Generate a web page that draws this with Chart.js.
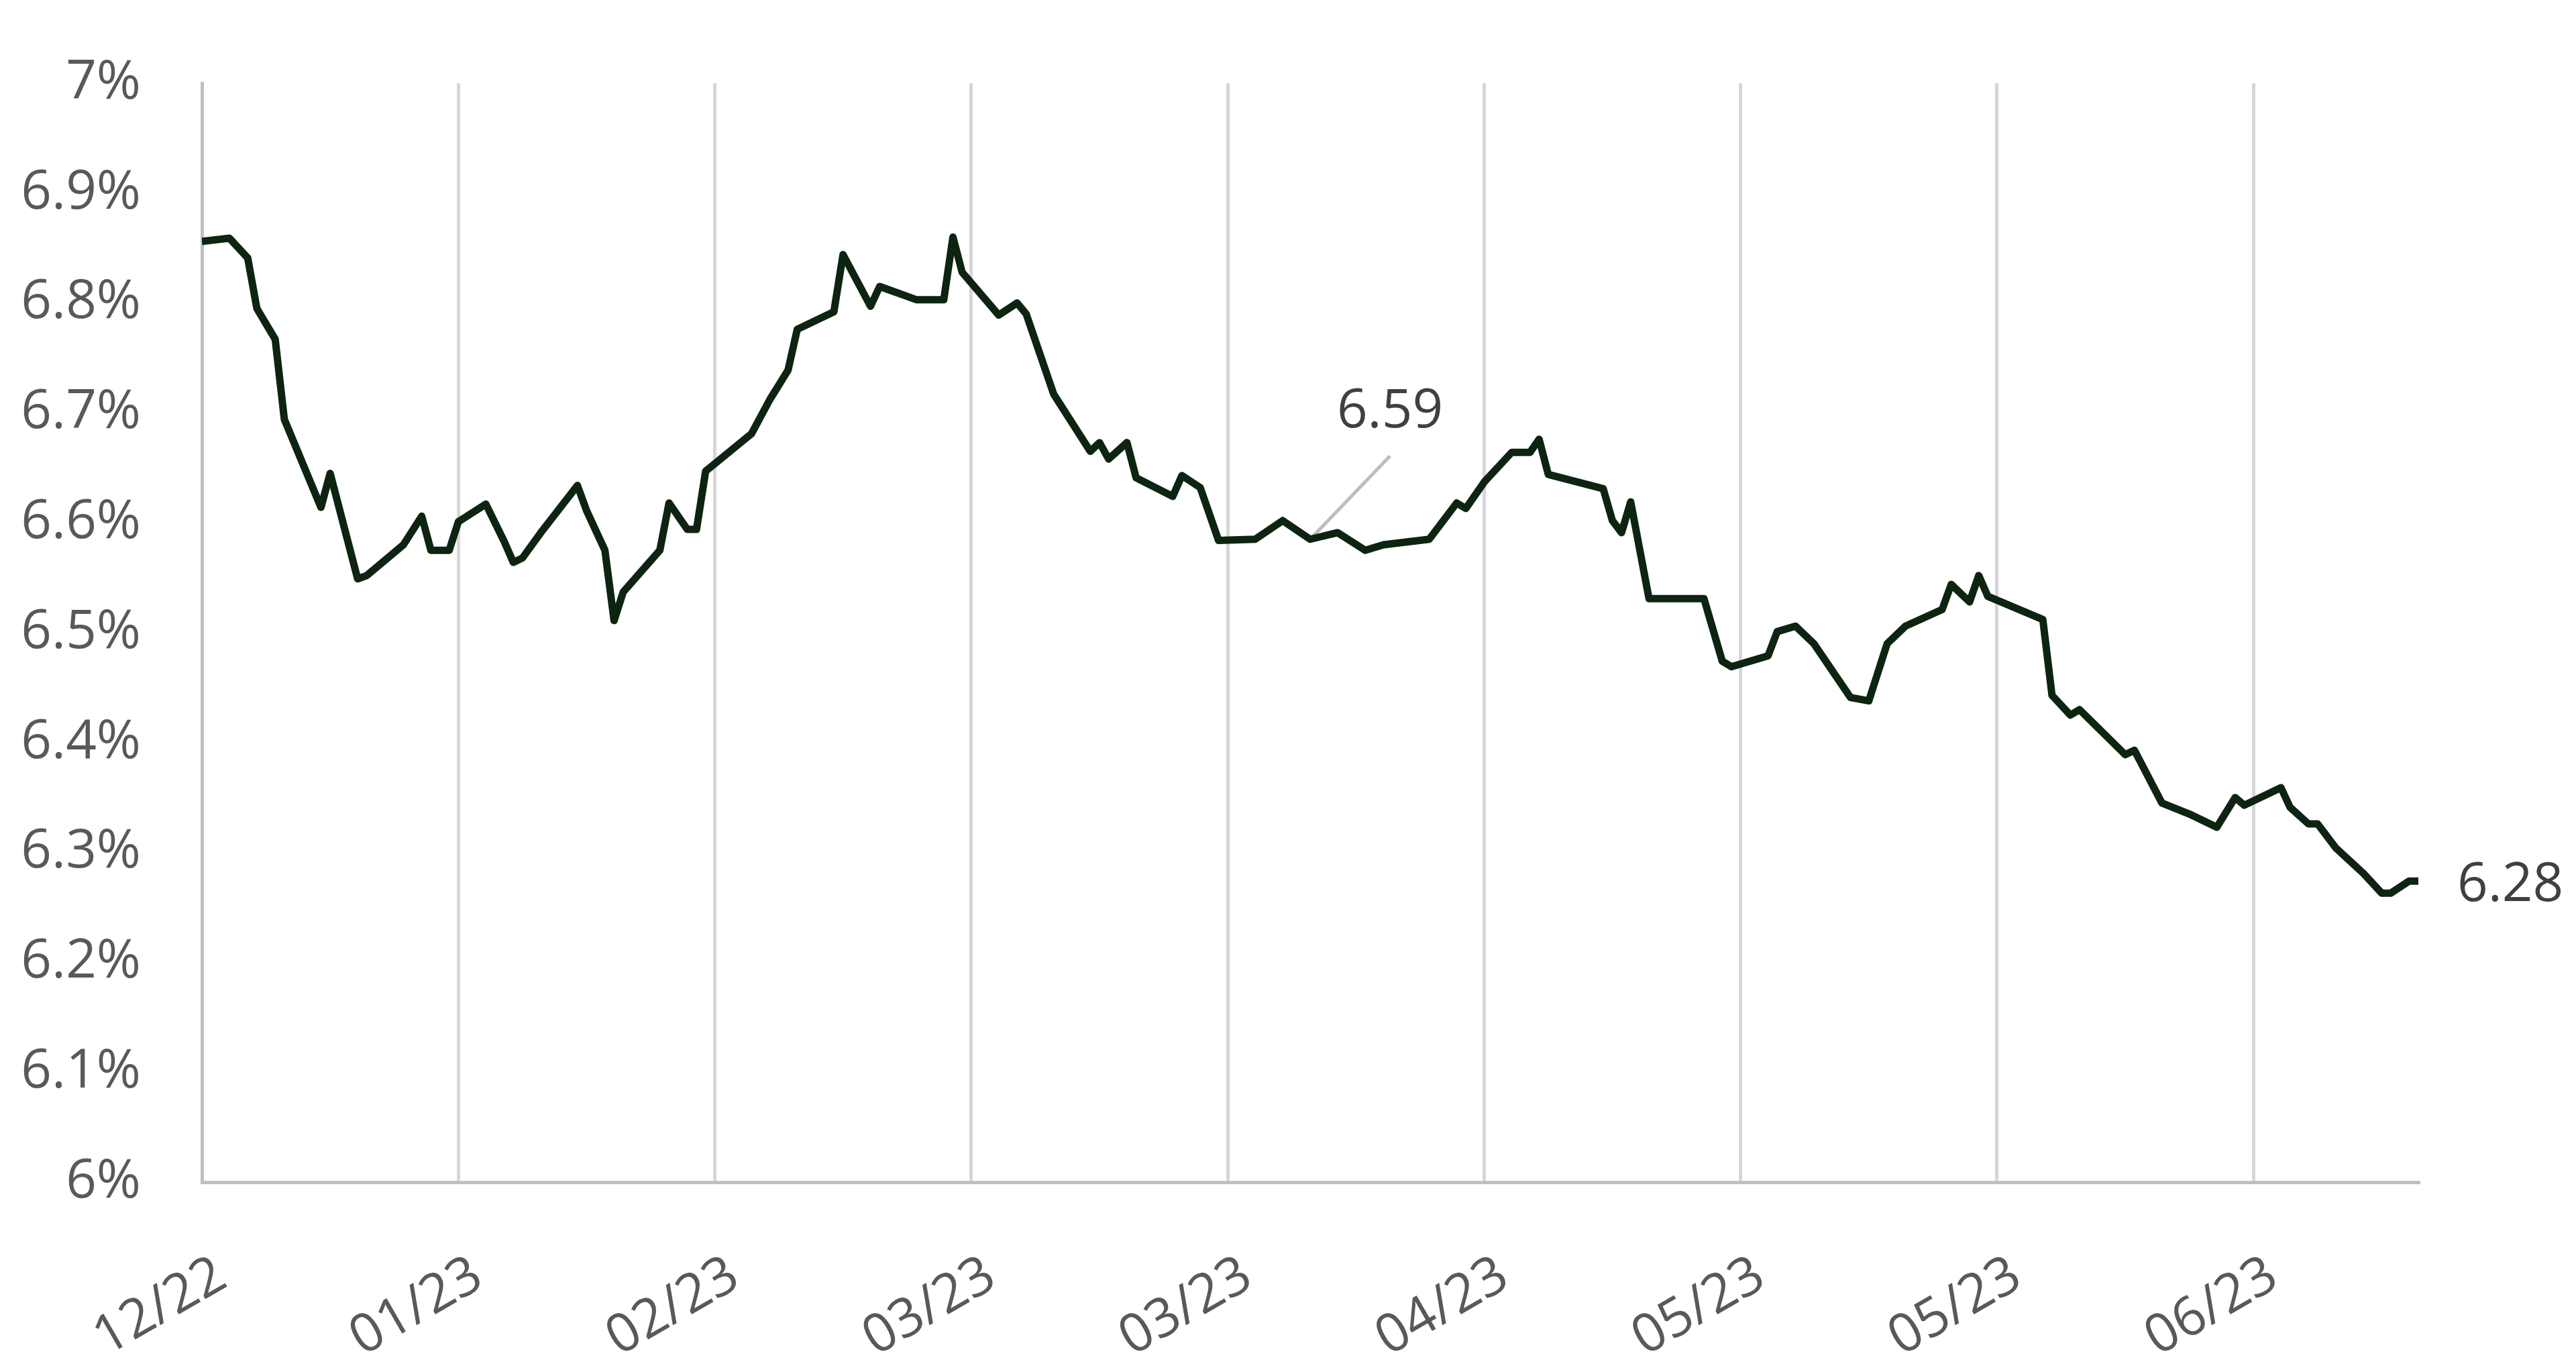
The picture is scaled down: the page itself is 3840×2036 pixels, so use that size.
<!DOCTYPE html>
<html>
<head>
<meta charset="utf-8">
<title>Rate chart</title>
<script src="https://cdn.jsdelivr.net/npm/chart.js@4.4.1/dist/chart.umd.min.js"></script>
<style>
  html, body { margin: 0; padding: 0; background: #fff; }
  #rate-chart { display: block; }
</style>
</head>
<body>
<canvas id="rate-chart" width="3840" height="2036"></canvas>
<script>
// ── Data ─────────────────────────────────────────

// days since the first observation
const dayOffsets = [
  0, 3, 5, 6, 8, 9, 13, 14, 17, 18, 22, 24, 25, 27, 28, 31, 33, 34, 35, 37,
  41, 42, 44, 45, 46, 50, 51, 53, 54, 55, 60, 62, 64, 65, 69, 70, 73, 74, 78, 81,
  82, 83, 87, 89, 90, 93, 97, 98, 99, 101, 102, 106, 107, 109, 111, 115, 118, 121, 124, 127,
  129, 134, 137, 138, 140, 143, 145, 146, 147, 153, 154, 155, 156, 158, 164, 166, 167, 171, 172, 174,
  176, 180, 182, 184, 186, 190, 191, 193, 194, 195, 201, 202, 204, 205, 210, 211, 214, 217, 220, 222,
  223, 227, 228, 230, 231, 233, 236, 238, 239, 241, 242
];

// rate in percent
const rates = [
  6.856, 6.859, 6.841, 6.795, 6.767, 6.694, 6.614, 6.645, 6.549, 6.552, 6.580, 6.606, 6.575, 6.575, 6.601, 6.617, 6.583, 6.564, 6.568, 6.591,
  6.634, 6.611, 6.575, 6.511, 6.537, 6.575, 6.618, 6.594, 6.594, 6.647, 6.681, 6.712, 6.739, 6.776, 6.792, 6.844, 6.797, 6.815, 6.803, 6.803,
  6.860, 6.828, 6.789, 6.800, 6.790, 6.717, 6.665, 6.673, 6.658, 6.673, 6.641, 6.624, 6.643, 6.632, 6.584, 6.585, 6.602, 6.585, 6.591, 6.575,
  6.580, 6.585, 6.618, 6.613, 6.637, 6.664, 6.664, 6.676, 6.644, 6.631, 6.602, 6.591, 6.619, 6.531, 6.531, 6.474, 6.469, 6.479, 6.501, 6.506,
  6.490, 6.441, 6.438, 6.490, 6.506, 6.521, 6.544, 6.528, 6.552, 6.533, 6.512, 6.443, 6.425, 6.430, 6.389, 6.393, 6.345, 6.335, 6.323, 6.350,
  6.343, 6.359, 6.341, 6.326, 6.326, 6.304, 6.281, 6.263, 6.263, 6.274, 6.274
];

const xTickLabels = ['12/22', '01/23', '02/23', '03/23', '03/23', '04/23', '05/23', '05/23', '06/23'];
const xTickStep   = 28;   // days between labelled gridlines
const xMax        = 242;

const yTickLabels = ['6%', '6.1%', '6.2%', '6.3%', '6.4%', '6.5%', '6.6%', '6.7%', '6.8%', '6.9%', '7%'];
const yMin = 6;
const yMax = 7;

const calloutDay  = 121;
const calloutText = '6.59';
const endText     = '6.28';

// ── Styles ───────────────────────────────────────

const colors = {
  line:   '#0c2410',
  grid:   '#d6d6d6',
  axis:   '#bfbfbf',
  tick:   '#595959',
  label:  '#404040',
  leader: '#bdbdbd'
};
const FONT = "'Open Sans', 'Noto Sans', sans-serif";

// ── Callout plugin ───────────────────────────────

function pointPixel(chart, i) {
  return {
    x: chart.scales.x.getPixelForValue(dayOffsets[i]),
    y: chart.scales.y.getPixelForValue(rates[i])
  };
}

const calloutPlugin = {
  id: 'callouts',
  beforeDatasetsDraw(chart) {
    const ctx = chart.ctx;
    const p = pointPixel(chart, dayOffsets.indexOf(calloutDay));
    ctx.save();
    ctx.strokeStyle = colors.leader;
    ctx.lineWidth = 5;
    ctx.beginPath();
    ctx.moveTo(p.x, p.y);
    ctx.lineTo(p.x + 119, p.y - 124);
    ctx.stroke();
    ctx.restore();
  },
  afterDatasetsDraw(chart) {
    const ctx = chart.ctx;
    const p = pointPixel(chart, dayOffsets.indexOf(calloutDay));
    const e = pointPixel(chart, rates.length - 1);
    ctx.save();
    ctx.font = '80px ' + FONT;
    ctx.fillStyle = colors.label;
    ctx.textBaseline = 'alphabetic';
    ctx.textAlign = 'center';
    ctx.fillText(calloutText, p.x + 119, p.y - 167);
    ctx.textAlign = 'left';
    ctx.fillText(endText, e.x + 58, e.y + 30);
    ctx.restore();
  }
};

// ── Chart ────────────────────────────────────────

new Chart(document.getElementById('rate-chart'), {
  type: 'line',
  data: {
    datasets: [{
      data: dayOffsets.map((d, i) => ({ x: d, y: rates[i] })),
      borderColor: colors.line,
      borderWidth: 11,
      borderJoinStyle: 'round',
      pointRadius: 0,
      tension: 0,
      fill: false
    }]
  },
  options: {
    responsive: false,
    devicePixelRatio: 1,
    animation: false,
    layout: { padding: { top: 124, right: 235, left: 0, bottom: 0 } },
    plugins: {
      legend: { display: false },
      tooltip: { enabled: false }
    },
    scales: {
      x: {
        type: 'linear',
        min: 0,
        max: xMax,
        afterBuildTicks: scale => {
          scale.ticks = xTickLabels.map((_, i) => ({ value: i * xTickStep }));
        },
        afterFit: scale => { scale.height = 274; },
        grid: { color: colors.grid, lineWidth: 5, drawTicks: false },
        border: { display: true, color: colors.axis, width: 5 },
        ticks: {
          autoSkip: false,
          minRotation: 30,
          maxRotation: 30,
          padding: 92,
          labelOffset: 30,
          color: colors.tick,
          font: { family: FONT, size: 80 },
          callback: (v, i) => xTickLabels[i]
        }
      },
      y: {
        type: 'linear',
        min: yMin,
        max: yMax,
        afterBuildTicks: scale => {
          scale.ticks = yTickLabels.map((_, i) => ({ value: yMin + i * 0.1 }));
        },
        afterFit: scale => {
          scale.width = 301;
          // the tick padding is horizontal here, keep it out of the top/bottom space
          scale.paddingTop = 40;
          scale.paddingBottom = 40;
        },
        grid: { display: false, drawTicks: false },
        border: { display: true, color: colors.axis, width: 5 },
        ticks: {
          padding: 91,
          color: colors.tick,
          font: { family: FONT, size: 80 },
          callback: (v, i) => yTickLabels[i]
        }
      }
    }
  },
  plugins: [calloutPlugin]
});
</script>
</body>
</html>
